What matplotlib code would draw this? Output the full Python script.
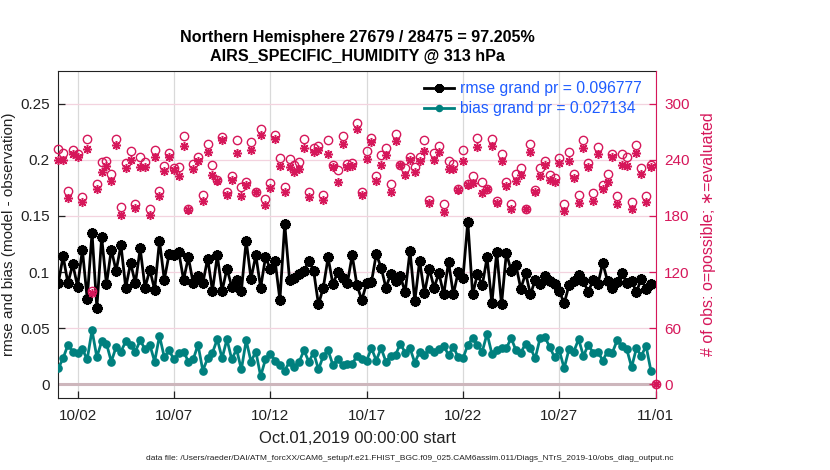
import numpy as np
import pandas as pd
import matplotlib
matplotlib.use("Agg")
import matplotlib.pyplot as plt
import matplotlib.dates as mdates

plt.rcParams['font.family'] = ['Liberation Sans', 'DejaVu Sans']

# ---------------- data ----------------
times = pd.date_range('2019-10-01 00:00', periods=125, freq='6h')

rmse = [0.090, 0.114, 0.090, 0.107, 0.087, 0.120, 0.076, 0.135, 0.068, 0.131,
        0.089, 0.120, 0.101, 0.124, 0.086, 0.108, 0.090, 0.121, 0.086, 0.102,
        0.084, 0.128, 0.093, 0.116, 0.115, 0.118, 0.093, 0.113, 0.090, 0.096,
        0.090, 0.112, 0.083, 0.115, 0.083, 0.103, 0.087, 0.093, 0.083, 0.128,
        0.094, 0.115, 0.086, 0.113, 0.103, 0.110, 0.075, 0.143, 0.093, 0.095,
        0.098, 0.101, 0.110, 0.101, 0.071, 0.086, 0.113, 0.089, 0.100, 0.095,
        0.090, 0.115, 0.088, 0.075, 0.090, 0.091, 0.116, 0.104, 0.086, 0.098,
        0.092, 0.096, 0.082, 0.119, 0.074, 0.110, 0.081, 0.103, 0.086, 0.099,
        0.080, 0.109, 0.080, 0.100, 0.095, 0.145, 0.080, 0.098, 0.088, 0.113,
        0.072, 0.118, 0.071, 0.117, 0.101, 0.106, 0.085, 0.099, 0.080, 0.093,
        0.089, 0.096, 0.092, 0.089, 0.083, 0.072, 0.088, 0.092, 0.097, 0.092,
        0.082, 0.093, 0.089, 0.108, 0.092, 0.086, 0.091, 0.099, 0.090, 0.092,
        0.082, 0.094, 0.085, 0.089, np.nan]

bias = [0.014, 0.023, 0.035, 0.029, 0.028, 0.031, 0.022, 0.048, 0.024, 0.038,
        0.036, 0.020, 0.033, 0.029, 0.038, 0.035, 0.029, 0.039, 0.031, 0.035,
        0.020, 0.043, 0.024, 0.030, 0.022, 0.028, 0.029, 0.020, 0.022, 0.035,
        0.012, 0.023, 0.028, 0.040, 0.023, 0.040, 0.022, 0.031, 0.013, 0.039,
        0.020, 0.029, 0.007, 0.022, 0.027, 0.021, 0.017, 0.012, 0.020, 0.015,
        0.020, 0.030, 0.020, 0.028, 0.013, 0.025, 0.030, 0.017, 0.022, 0.017,
        0.018, 0.018, 0.025, 0.022, 0.021, 0.032, 0.021, 0.032, 0.020, 0.025,
        0.026, 0.036, 0.028, 0.032, 0.019, 0.029, 0.026, 0.031, 0.029, 0.031,
        0.034, 0.026, 0.033, 0.024, 0.023, 0.035, 0.041, 0.035, 0.029, 0.045,
        0.027, 0.030, 0.032, 0.032, 0.041, 0.030, 0.028, 0.036, 0.032, 0.023,
        0.041, 0.042, 0.033, 0.024, 0.030, 0.014, 0.031, 0.029, 0.040, 0.025,
        0.035, 0.028, 0.029, 0.021, 0.029, 0.028, 0.039, 0.034, 0.031, 0.015,
        0.032, 0.025, 0.034, 0.012, np.nan]

possible = [252, 247, 207, 251, 246, 200, 263, 100, 214, 238,
            239, 225, 263, 190, 237, 250, 193, 243, 238, 187,
            251, 207, 234, 247, 231, 232, 266, 187, 236, 243,
            203, 257, 235, 219, 265, 206, 223, 261, 211, 216,
            259, 206, 273, 198, 215, 267, 242, 211, 241, 235,
            238, 263, 206, 253, 255, 203, 261, 235, 229, 266,
            236, 237, 280, 206, 250, 264, 223, 245, 253, 214,
            268, 235, 231, 243, 233, 243, 261, 197, 248, 255,
            193, 239, 236, 209, 251, 214, 223, 264, 216, 209,
            262, 196, 246, 216, 193, 225, 231, 187, 257, 208,
            231, 239, 224, 221, 242, 193, 249, 225, 203, 261,
            237, 205, 254, 213, 225, 246, 201, 246, 243, 195,
            256, 231, 201, 235, 0]

evaluated = [240, 240, 199, 246, 243, 195, 252, 97, 209, 227,
             234, 218, 256, 181, 231, 240, 189, 233, 233, 181,
             243, 201, 228, 243, 229, 223, 255, 186, 230, 239,
             196, 249, 224, 217, 261, 202, 219, 248, 201, 213,
             251, 206, 267, 192, 210, 263, 234, 206, 233, 227,
             230, 253, 200, 249, 251, 197, 246, 233, 216, 257,
             233, 234, 273, 203, 241, 259, 218, 235, 245, 206,
             260, 235, 224, 240, 227, 239, 250, 194, 240, 249,
             184, 230, 230, 208, 239, 213, 215, 254, 205, 209,
             255, 194, 239, 212, 187, 218, 224, 187, 249, 206,
             223, 235, 219, 216, 237, 185, 239, 221, 194, 253,
             232, 196, 246, 209, 216, 243, 193, 235, 234, 187,
             247, 225, 195, 232, 0]

title_lines = ["Northern Hemisphere 27679 / 28475 = 97.205%",
               "AIRS_SPECIFIC_HUMIDITY @ 313 hPa"]
rmse_label = "rmse grand pr = 0.096777"
bias_label = "bias grand pr = 0.027134"
xtick_dates = pd.date_range('2019-10-02', '2019-11-01', freq='5D')

# ---------------- style ----------------
CRIMSON = '#D6175A'
TEAL = '#00807E'
BLUE = '#1E5CFF'
ylim = (-0.0122, 0.2797)
scale = 1200.0

W, H = 830, 470
fig = plt.figure(figsize=(W / 100, H / 100), dpi=100)
ax = fig.add_axes([58.3 / W, 1 - 397.7 / H, 597.4 / W, 327 / H])

ax.xaxis.grid(True, color='#D9D9D9', lw=0.9)
ax.yaxis.grid(True, color='#F3D3DF', lw=0.9)
ax.set_axisbelow(True)
ax.axhline(0, color='#CDB6BC', lw=2.2, zorder=1.5)

l1, = ax.plot(times, rmse, color='black', lw=2.0, marker=(8, 2, 0),
              ms=7.5, mew=2.3, zorder=3)
l2, = ax.plot(times, bias, color=TEAL, lw=2.0, marker='o', ms=5.2,
              mfc=TEAL, mec=TEAL, zorder=3)

ax.set_xlim(pd.Timestamp('2019-10-01'), pd.Timestamp('2019-11-01'))
ax.set_ylim(*ylim)
ax.set_xticks(xtick_dates)
ax.xaxis.set_major_formatter(mdates.DateFormatter('%m/%d'))
ax.set_yticks([0, 0.05, 0.1, 0.15, 0.2, 0.25])
ax.set_yticklabels(['0', '0.05', '0.1', '0.15', '0.2', '0.25'])
ax.tick_params(axis='both', direction='in', length=5, labelsize=11, width=0.9,
               colors='#222222', pad=6)
ax.tick_params(axis='x', pad=8)
for s in ['left', 'bottom', 'top']:
    ax.spines[s].set_color('#222222')
ax.spines['right'].set_visible(False)

ax.set_xlabel("Oct.01,2019 00:00:00 start", fontsize=12, color='#222222', labelpad=6)
ax.set_ylabel("rmse and bias (model - observation)", fontsize=11, color='#222222',
              labelpad=3)
ax.set_title("\n".join(title_lines), fontsize=11.6, fontweight='bold', pad=7,
             linespacing=1.35)

ax2 = ax.twinx()
ax2.set_ylim(ylim[0] * scale, ylim[1] * scale)
ax2.plot(times, possible, ls='none', marker='o', ms=6, mfc='none', mec=CRIMSON,
         mew=1.0, clip_on=False, zorder=4)
ax2.plot(times, evaluated, ls='none', marker=(8, 2, 0), ms=6.5, mec=CRIMSON,
         mew=1.1, clip_on=False, zorder=4)
ax2.set_yticks([0, 60, 120, 180, 240, 300])
ax2.tick_params(axis='y', direction='in', length=5, colors=CRIMSON, labelsize=11,
                width=0.9, pad=6)
ax2.spines['right'].set_color(CRIMSON)
for s in ['left', 'bottom', 'top']:
    ax2.spines[s].set_visible(False)
ax2.set_ylabel("# of obs: o=possible; \u2217=evaluated", fontsize=11.5, color=CRIMSON,
               labelpad=8)

leg = ax2.legend([l1, l2], [rmse_label, bias_label], loc='upper right',
                 bbox_to_anchor=(642 / W, 1 - 81 / H), bbox_transform=fig.transFigure,
                 frameon=False, fontsize=11.3, handlelength=1.9, handletextpad=0.4,
                 labelspacing=0.35, borderpad=0, borderaxespad=0, markerscale=0.85)
for t in leg.get_texts():
    t.set_color(BLUE)

fig.text(410 / W, 1 - 458 / H,
         "data file: /Users/raeder/DAI/ATM_forcXX/CAM6_setup/f.e21.FHIST_BGC.f09_025."
         "CAM6assim.011/Diags_NTrS_2019-10/obs_diag_output.nc",
         fontsize=6, ha='center', va='center', color='#222222')

fig.savefig('out.png', dpi=100)
